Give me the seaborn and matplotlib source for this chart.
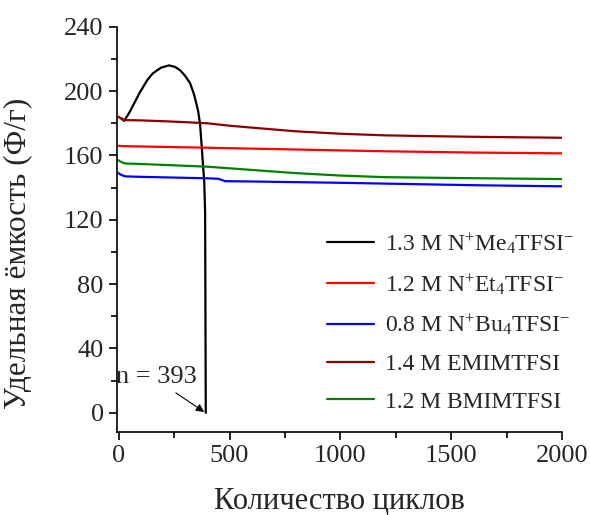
import matplotlib
import pandas as pd
import seaborn as sns

matplotlib.use("Agg")
import matplotlib.pyplot as plt

# cycling data
me4_x = [15, 25, 50, 95, 130, 154, 190, 227, 255, 277, 300, 322, 340, 358, 367, 375, 381, 386, 390, 393]
me4_y = [183, 181.5, 187, 199, 207, 211, 214.5, 216, 215, 213, 209.5, 205, 198, 188, 180, 165, 153, 144, 125, 0]

et4_x = [0, 20, 400, 800, 1200, 1600, 2000]
et4_y = [166, 165.8, 164.8, 163.7, 162.6, 161.8, 161.3]

bu4_x = [0, 10, 30, 100, 400, 450, 480, 600, 1000, 1200, 1400, 1600, 2000]
bu4_y = [149, 148, 147, 146.7, 145.8, 145.5, 144, 143.8, 143, 142.5, 142, 141.5, 140.8]

emim_x = [0, 10, 20, 100, 200, 300, 400, 500, 600, 800, 1000, 1200, 1400, 1600, 1800, 2000]
emim_y = [184, 183, 182, 181.8, 181.3, 180.7, 180, 178.5, 177.3, 175, 173.5, 172.5, 172, 171.6, 171.3, 171]

bmim_x = [0, 10, 30, 100, 400, 600, 800, 1000, 1200, 1500, 2000]
bmim_y = [157, 156, 155, 154.7, 153, 151, 149, 147.5, 146.5, 146, 145.3]

labels = [
    "1.3 M N$^{+}$Me$_{4}$TFSI$^{-}$",
    "1.2 M N$^{+}$Et$_{4}$TFSI$^{-}$",
    "0.8 M N$^{+}$Bu$_{4}$TFSI$^{-}$",
    "1.4 M EMIMTFSI",
    "1.2 M BMIMTFSI",
]
colors = ["black", "red", "blue", "#8b0000", "green"]

series = [(me4_x, me4_y), (et4_x, et4_y), (bu4_x, bu4_y), (emim_x, emim_y), (bmim_x, bmim_y)]
frames = []
for lab, (xs, ys) in zip(labels, series):
    frames.append(pd.DataFrame({"cycles": xs, "cap": ys, "electrolyte": lab}))
df = pd.concat(frames, ignore_index=True)

sns.set_style("ticks")
plt.rcParams["font.family"] = ["Liberation Serif", "DejaVu Serif"]
plt.rcParams["mathtext.fontset"] = "custom"
plt.rcParams["mathtext.rm"] = "Liberation Serif"
plt.rcParams["mathtext.it"] = "Liberation Serif:italic"

fig = plt.figure(figsize=(5.9, 5.15), dpi=100)
ax = fig.add_axes([0.198, 0.161, 0.755, 0.787])
sns.lineplot(data=df, x="cycles", y="cap", hue="electrolyte", hue_order=labels,
             palette=dict(zip(labels, colors)), estimator=None, sort=False,
             linewidth=1.6, ax=ax)

ax.set_xlim(-8, 2000)
ax.set_ylim(-12, 240)
ax.set_xticks([0, 500, 1000, 1500, 2000])
ax.set_xticks(range(250, 2000, 500), minor=True)
ax.set_yticks(range(0, 241, 40))
ax.set_yticks(range(20, 240, 40), minor=True)
ax.tick_params(axis="both", which="major", labelsize=19, length=6, width=1.2, color="black")
ax.tick_params(axis="both", which="minor", length=4, width=1.2, color="black")
for s in ["left", "bottom"]:
    ax.spines[s].set_linewidth(1.2)
    ax.spines[s].set_color("black")
sns.despine(ax=ax)

ax.set_xlabel("Количество циклов", fontsize=22)
ax.set_ylabel("Удельная ёмкость (Ф/г)", fontsize=22.5)
ax.xaxis.set_label_coords(0.499, -0.135)
ax.yaxis.set_label_coords(-0.189, 0.44)

ax.text(172, 22, "n = 393", fontsize=19, ha="center", va="center")
ax.annotate("", xy=(386, 0.5), xytext=(258, 12.4),
            arrowprops=dict(arrowstyle="-|>", color="black", lw=0.8,
                            shrinkA=0, shrinkB=0, mutation_scale=12))

ax.legend(frameon=False, fontsize=17, loc="lower left", bbox_to_anchor=(0.472, 0.048),
          borderaxespad=0, borderpad=0, handlelength=2.0, labelspacing=0.68,
          handletextpad=0.45)

fig.savefig("out.png", dpi=100)
